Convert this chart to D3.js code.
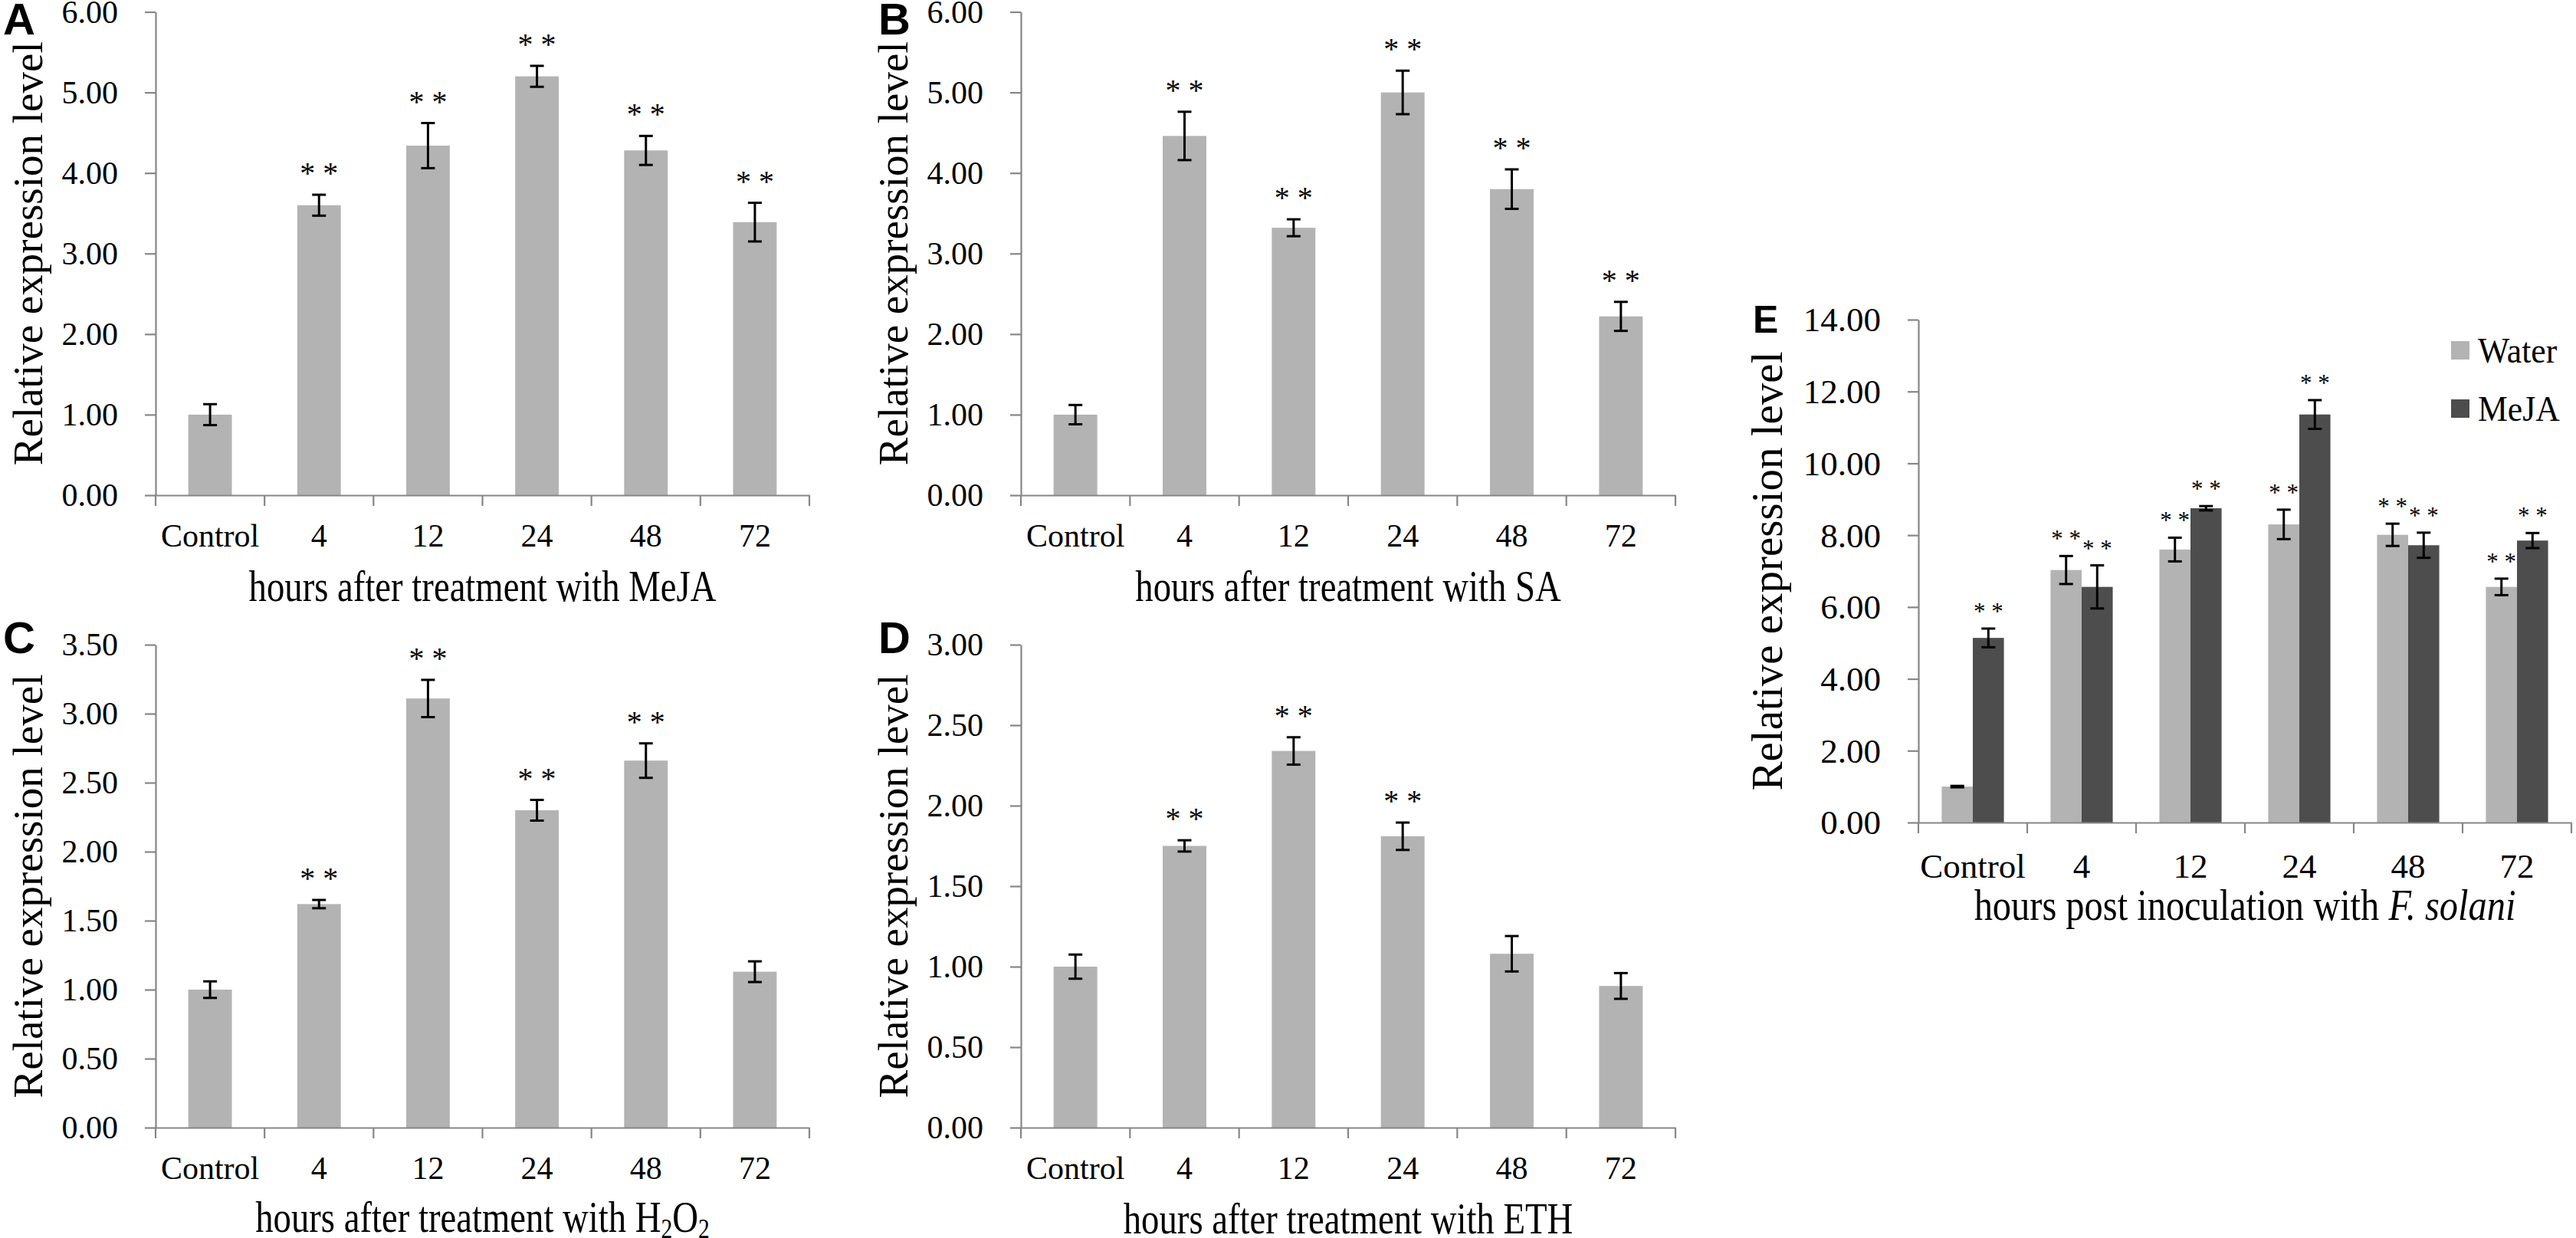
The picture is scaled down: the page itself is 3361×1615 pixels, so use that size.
<!DOCTYPE html>
<html>
<head>
<meta charset="utf-8">
<script src="https://cdn.jsdelivr.net/npm/d3@7"></script>
<style>
  html, body { margin: 0; padding: 0; background: #ffffff; }
  svg { display: block; }
</style>
</head>
<body>
<svg id="chart" width="3361" height="1615"></svg>
<script>
// ---------- DATA ----------
const categories = ["Control", "4", "12", "24", "48", "72"];

const meanA = [1.00, 3.60, 4.34, 5.20, 4.28, 3.39];
const errA  = [0.13, 0.13, 0.28, 0.13, 0.18, 0.24];
const sigA  = [false, true, true, true, true, true];
const ticksA = [0, 1, 2, 3, 4, 5, 6];

const meanB = [1.00, 4.46, 3.32, 5.00, 3.80, 2.22];
const errB  = [0.12, 0.30, 0.105, 0.27, 0.245, 0.18];
const sigB  = [false, true, true, true, true, true];
const ticksB = [0, 1, 2, 3, 4, 5, 6];

const meanC = [1.00, 1.62, 3.11, 2.30, 2.66, 1.13];
const errC  = [0.06, 0.03, 0.135, 0.075, 0.125, 0.075];
const sigC  = [false, true, true, true, true, false];
const ticksC = [0, 0.5, 1, 1.5, 2, 2.5, 3, 3.5];

const meanD = [1.00, 1.75, 2.34, 1.81, 1.08, 0.88];
const errD  = [0.075, 0.035, 0.085, 0.085, 0.11, 0.08];
const sigD  = [false, true, true, true, false, false];
const ticksD = [0, 0.5, 1, 1.5, 2, 2.5, 3];

const seriesE = ["Water", "MeJA"];
const waterE    = [1.00, 7.03, 7.60, 8.30, 8.01, 6.56];
const waterErrE = [0.02, 0.39, 0.33, 0.41, 0.31, 0.23];
const waterSigE = [false, true, true, true, true, true];
const mejaE     = [5.14, 6.56, 8.75, 11.36, 7.72, 7.85];
const mejaErrE  = [0.26, 0.60, 0.06, 0.40, 0.35, 0.21];
const mejaSigE  = [true, true, true, true, true, true];
const ticksE = [0, 2, 4, 6, 8, 10, 12, 14];

const yTitle = "Relative expression level";

// ---------- STYLE ----------
const SERIF = "'Liberation Serif', 'Times New Roman', serif";
const SANS = "'Liberation Sans', Arial, sans-serif";
const LIGHT = "#b3b3b3";
const DARK = "#4d4d4d";
const AXIS = "#868686";
const fmt = d3.format(".2f");

const svg = d3.select("#chart");
svg.append("rect").attr("width", 3361).attr("height", 1615).attr("fill", "#fff");

function drawFrame(g, cfg, x, y) {
  // y axis
  const ya = d3.axisLeft(y).tickValues(cfg.ticks).tickFormat(fmt)
    .tickSize(14).tickSizeOuter(0).tickPadding(35);
  const gy = g.append("g").attr("transform", `translate(${cfg.x0},0)`).call(ya);
  gy.select(".domain").attr("stroke", AXIS).attr("stroke-width", 2.2);
  gy.selectAll(".tick line").attr("stroke", AXIS).attr("stroke-width", 2.2);
  gy.selectAll(".tick text").attr("font-family", SERIF).attr("font-size", cfg.tickFont)
    .attr("fill", "#000").attr("dy", "0.33em");

  // x axis line + boundary ticks
  const xa = d3.axisBottom(x).tickSize(0).tickPadding(0);
  const gx = g.append("g").attr("transform", `translate(0,${cfg.yBot})`).call(xa);
  gx.select(".domain").attr("stroke", AXIS).attr("stroke-width", 2.2);
  gx.selectAll(".tick text").attr("font-family", SERIF).attr("font-size", cfg.tickFont)
    .attr("fill", "#000").attr("y", cfg.catOff).attr("dy", 0);
  const [r0] = x.range();
  const step = x.step();
  const bounds = d3.range(categories.length + 1).map(i => r0 + i * step);
  gx.selectAll("line.bt").data(bounds).join("line").attr("class", "bt")
    .attr("x1", d => d).attr("x2", d => d).attr("y1", 0).attr("y2", 14)
    .attr("stroke", AXIS).attr("stroke-width", 2.2);

  // x title (condensed serif, as in the reference)
  const t = g.append("text")
    .attr("transform", `translate(${(cfg.x0 + cfg.x1) / 2},${cfg.yBot + cfg.titleOff}) scale(${cfg.titleScale},1)`)
    .attr("text-anchor", "middle").attr("font-family", SERIF).attr("font-size", 57).attr("fill", "#000");
  cfg.xTitle(t);

  // y title
  g.append("text")
    .attr("transform", `translate(${cfg.x0 - cfg.yTitleOff},${(cfg.yTop + cfg.yBot) / 2}) rotate(-90)`)
    .attr("text-anchor", "middle").attr("font-family", SERIF).attr("font-size", cfg.yTitleFont).attr("fill", "#000")
    .text(yTitle);

  // panel letter
  g.append("text").attr("x", cfg.letterX).attr("y", cfg.letterY)
    .attr("font-family", SANS).attr("font-weight", "bold").attr("font-size", cfg.letterFont).attr("fill", "#000")
    .text(cfg.letter);
}

function drawErr(g, cx, y, m, e, capW) {
  g.append("line").attr("x1", cx).attr("x2", cx).attr("y1", y(m + e)).attr("y2", y(m - e))
    .attr("stroke", "#000").attr("stroke-width", 3);
  [m + e, m - e].forEach(v => {
    g.append("line").attr("x1", cx - capW / 2).attr("x2", cx + capW / 2)
      .attr("y1", y(v)).attr("y2", y(v)).attr("stroke", "#000").attr("stroke-width", 3);
  });
}

const common = { tickFont: 42, catOff: 67, titleOff: 138, titleScale: 0.82,
  yTitleOff: 148, yTitleFont: 55, letterFont: 58 };

function drawSingle(cfg) {
  cfg = Object.assign({}, common, cfg);
  const g = svg.append("g");
  const x = d3.scaleBand().domain(categories).range([cfg.x0, cfg.x1]).paddingInner(0.6).paddingOuter(0.3);
  const y = d3.scaleLinear().domain([0, cfg.ticks[cfg.ticks.length - 1]]).range([cfg.yBot, cfg.yTop]);
  const rows = categories.map((c, i) => ({ c, m: cfg.mean[i], e: cfg.err[i], s: cfg.sig[i] }));
  g.selectAll("rect.bar").data(rows).join("rect").attr("class", "bar")
    .attr("x", d => x(d.c)).attr("width", x.bandwidth())
    .attr("y", d => y(d.m)).attr("height", d => y(0) - y(d.m)).attr("fill", LIGHT);
  drawFrame(g, cfg, x, y);
  rows.forEach(d => {
    const cx = x(d.c) + x.bandwidth() / 2;
    drawErr(g, cx, y, d.m, d.e, 18);
    if (d.s) {
      g.append("text").attr("x", cx).attr("y", y(d.m + d.e) - 15).attr("text-anchor", "middle")
        .attr("font-family", SERIF).attr("font-size", 40).attr("fill", "#000").text("* *");
    }
  });
}

drawSingle({ letter: "A", letterX: 4, letterY: 45, x0: 203, x1: 1056, yTop: 15.5, yBot: 646,
  ticks: ticksA, mean: meanA, err: errA, sig: sigA,
  xTitle: t => t.text("hours after treatment with MeJA") });
drawSingle({ letter: "B", letterX: 1146, letterY: 45, x0: 1332, x1: 2186, yTop: 15.5, yBot: 646,
  ticks: ticksB, mean: meanB, err: errB, sig: sigB,
  xTitle: t => t.text("hours after treatment with SA") });
drawSingle({ letter: "C", letterX: 4, letterY: 852, x0: 203, x1: 1056, yTop: 841, yBot: 1471,
  ticks: ticksC, mean: meanC, err: errC, sig: sigC, titleOff: 136,
  xTitle: t => {
    t.append("tspan").text("hours after treatment with H");
    t.append("tspan").attr("font-size", 36).attr("dy", 8).text("2");
    t.append("tspan").attr("dy", -8).text("O");
    t.append("tspan").attr("font-size", 36).attr("dy", 8).text("2");
  } });
drawSingle({ letter: "D", letterX: 1146, letterY: 852, x0: 1332, x1: 2186, yTop: 841, yBot: 1471,
  ticks: ticksD, mean: meanD, err: errD, sig: sigD,
  xTitle: t => t.text("hours after treatment with ETH") });

// ---------- Panel E ----------
(function () {
  const cfg = Object.assign({}, common, { letter: "E", letterX: 2287, letterY: 434, letterFont: 50,
    x0: 2503, x1: 3355, yTop: 417, yBot: 1073, ticks: ticksE,
    tickFont: 45, catOff: 72, titleOff: 127, titleScale: 0.85, yTitleOff: 178, yTitleFont: 57,
    xTitle: t => {
      t.append("tspan").text("hours post inoculation  with ");
      t.append("tspan").attr("font-style", "italic").text("F. solani");
    } });
  const g = svg.append("g");
  const x = d3.scaleBand().domain(categories).range([cfg.x0, cfg.x1]).paddingInner(0.4286).paddingOuter(0.2143);
  const xs = d3.scaleBand().domain(seriesE).range([0, x.bandwidth()]).padding(0);
  const y = d3.scaleLinear().domain([0, 14]).range([cfg.yBot, cfg.yTop]);
  const color = d3.scaleOrdinal().domain(seriesE).range([LIGHT, DARK]);
  const rows = [];
  categories.forEach((c, i) => {
    rows.push({ c, s: "Water", m: waterE[i], e: waterErrE[i], sig: waterSigE[i] });
    rows.push({ c, s: "MeJA", m: mejaE[i], e: mejaErrE[i], sig: mejaSigE[i] });
  });
  g.selectAll("rect.bar").data(rows).join("rect").attr("class", "bar")
    .attr("x", d => x(d.c) + xs(d.s)).attr("width", xs.bandwidth())
    .attr("y", d => y(d.m)).attr("height", d => y(0) - y(d.m)).attr("fill", d => color(d.s));
  drawFrame(g, cfg, x, y);
  rows.forEach(d => {
    const cx = x(d.c) + xs(d.s) + xs.bandwidth() / 2;
    drawErr(g, cx, y, d.m, d.e, 18);
    if (d.sig) {
      g.append("text").attr("x", cx).attr("y", y(d.m + d.e) - 12).attr("text-anchor", "middle")
        .attr("font-family", SERIF).attr("font-size", 31).attr("fill", "#000").text("* *");
    }
  });
  // legend
  const lg = g.append("g").attr("transform", "translate(3198,445)");
  seriesE.forEach((s, i) => {
    lg.append("rect").attr("x", 0).attr("y", i * 76).attr("width", 24).attr("height", 24).attr("fill", color(s));
    lg.append("text").attr("transform", `translate(35,${i * 76 + 28}) scale(0.95,1)`).attr("font-family", SERIF)
      .attr("font-size", 46).attr("fill", "#000").text(s);
  });
})();
</script>
</body>
</html>
